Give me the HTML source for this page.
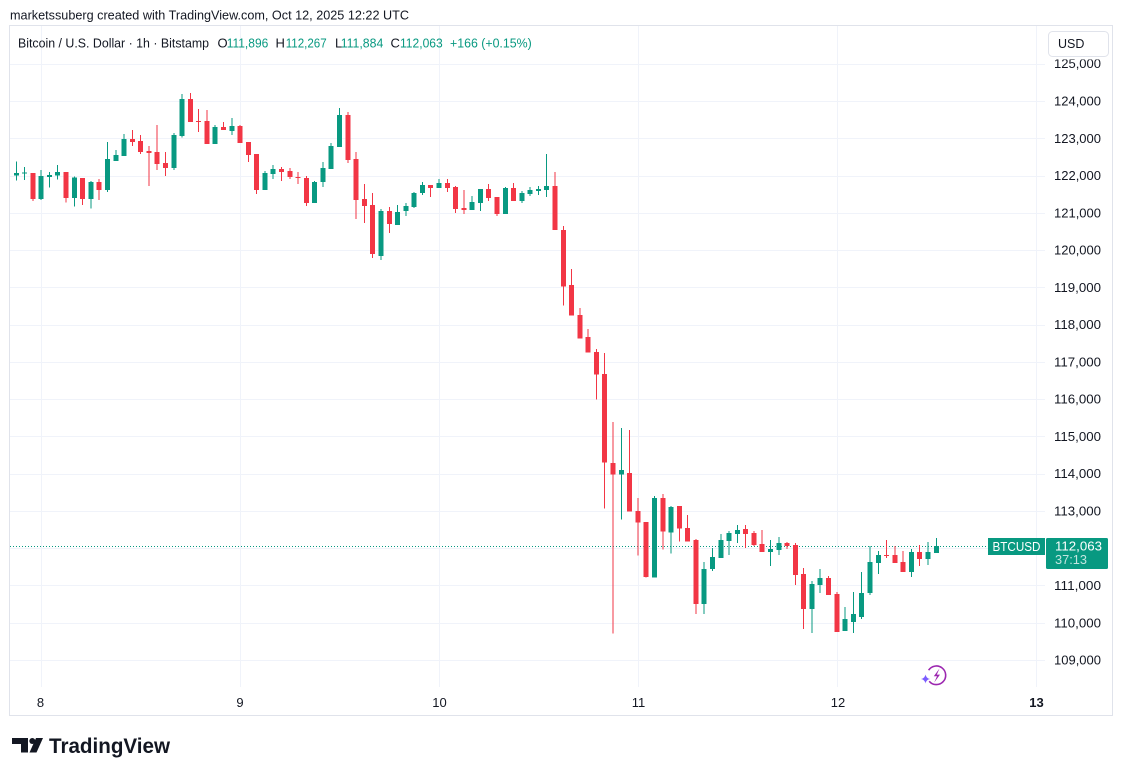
<!DOCTYPE html>
<html>
<head>
<meta charset="utf-8">
<style>
  html,body{margin:0;padding:0;background:#ffffff;}
  svg{display:block;}
  text{font-family:"Liberation Sans", Arial, sans-serif;}
</style>
</head>
<body>
<svg width="1123" height="776" viewBox="0 0 1123 776" xmlns="http://www.w3.org/2000/svg">
  <rect x="0" y="0" width="1123" height="776" fill="#ffffff"/>

  <!-- header -->
  <text x="10" y="19.5" font-size="13" fill="#131722" textLength="399" lengthAdjust="spacingAndGlyphs">marketssuberg created with TradingView.com, Oct 12, 2025 12:22 UTC</text>

  <!-- frame -->
  <rect x="9.5" y="25.5" width="1103" height="690" fill="#ffffff" stroke="#e0e3eb" stroke-width="1"/>

  <!-- grid -->
  <g stroke="#f0f3fa" stroke-width="1" shape-rendering="crispEdges">
    <line x1="10" x2="1045" y1="64.5" y2="64.5"/>
    <line x1="10" x2="1045" y1="101.5" y2="101.5"/>
    <line x1="10" x2="1045" y1="138.5" y2="138.5"/>
    <line x1="10" x2="1045" y1="176.5" y2="176.5"/>
    <line x1="10" x2="1045" y1="213.5" y2="213.5"/>
    <line x1="10" x2="1045" y1="250.5" y2="250.5"/>
    <line x1="10" x2="1045" y1="287.5" y2="287.5"/>
    <line x1="10" x2="1045" y1="325.5" y2="325.5"/>
    <line x1="10" x2="1045" y1="362.5" y2="362.5"/>
    <line x1="10" x2="1045" y1="399.5" y2="399.5"/>
    <line x1="10" x2="1045" y1="436.5" y2="436.5"/>
    <line x1="10" x2="1045" y1="474.5" y2="474.5"/>
    <line x1="10" x2="1045" y1="511.5" y2="511.5"/>
    <line x1="10" x2="1045" y1="548.5" y2="548.5"/>
    <line x1="10" x2="1045" y1="585.5" y2="585.5"/>
    <line x1="10" x2="1045" y1="623.5" y2="623.5"/>
    <line x1="10" x2="1045" y1="660.5" y2="660.5"/>
    <line x1="41.5" x2="41.5" y1="26" y2="687"/>
    <line x1="240.5" x2="240.5" y1="26" y2="687"/>
    <line x1="439.5" x2="439.5" y1="26" y2="687"/>
    <line x1="638.5" x2="638.5" y1="26" y2="687"/>
    <line x1="837.5" x2="837.5" y1="26" y2="687"/>
    <line x1="1036.5" x2="1036.5" y1="26" y2="687"/>
  </g>

  <!-- legend -->
  <g font-size="13">
    <text x="18" y="47.5" fill="#131722" textLength="191" lengthAdjust="spacingAndGlyphs">Bitcoin / U.S. Dollar · 1h · Bitstamp</text>
    <text x="217.5" y="47.5" fill="#131722">O</text>
    <text x="226.7" y="47.5" fill="#089981" textLength="41.6" lengthAdjust="spacingAndGlyphs">111,896</text>
    <text x="275.5" y="47.5" fill="#131722">H</text>
    <text x="285.7" y="47.5" fill="#089981" textLength="41" lengthAdjust="spacingAndGlyphs">112,267</text>
    <text x="335" y="47.5" fill="#131722">L</text>
    <text x="340.7" y="47.5" fill="#089981" textLength="42.6" lengthAdjust="spacingAndGlyphs">111,884</text>
    <text x="390.5" y="47.5" fill="#131722">C</text>
    <text x="400" y="47.5" fill="#089981" textLength="42.7" lengthAdjust="spacingAndGlyphs">112,063</text>
    <text x="450" y="47.5" fill="#089981" textLength="81.7" lengthAdjust="spacingAndGlyphs">+166 (+0.15%)</text>
  </g>

  <!-- current price dotted line -->
  <line x1="10" x2="988" y1="546.5" y2="546.5" stroke="#089981" stroke-width="1" stroke-dasharray="1 2"/>

  <!-- candles -->
  <g shape-rendering="crispEdges">
  <path fill="#089981" d="M13.8 173h5V175.7h-5z M15.8 161.7h1V180.7h-1z
M22.1 172.7h5V173.7h-5z M24.1 167h1V180h-1z
M38.7 176h5V199h-5z M40.7 170h1V200h-1z
M47 175h5V177h-5z M49 172h1V187.7h-1z
M55.2 172h5V175.7h-5z M57.2 165h1V179.7h-1z
M71.8 177.7h5V198h-5z M73.8 176.7h1V206.7h-1z
M88.4 182h5V199h-5z M90.4 181h1V208.7h-1z
M105 159h5V190h-5z M107 142h1V192h-1z
M113.3 155h5V161h-5z M115.3 150h1V161h-1z
M121.5 139h5V156h-5z M123.5 134h1V156h-1z
M171.3 135h5V168h-5z M173.3 133h1V170h-1z
M179.6 99h5V136h-5z M181.6 94h1V137.7h-1z
M212.7 127h5V144h-5z M214.7 125h1V144h-1z
M229.3 126h5V131h-5z M231.3 118h1V135h-1z
M262.4 173h5V190h-5z M264.4 171h1V190h-1z
M270.7 169h5V174h-5z M272.7 165h1V179h-1z
M312.2 182h5V203h-5z M314.2 181h1V203h-1z
M320.5 168h5V182h-5z M322.5 162h1V187h-1z
M328.7 146h5V169h-5z M330.7 143h1V169h-1z
M337 115h5V147h-5z M339 108h1V147h-1z
M378.5 211h5V256h-5z M380.5 209h1V260h-1z
M395 212h5V225h-5z M397 205h1V225h-1z
M403.3 206h5V211h-5z M405.3 203h1V216h-1z
M411.6 193h5V207h-5z M413.6 192h1V208h-1z
M419.9 185h5V193h-5z M421.9 182h1V195h-1z
M436.5 183h5V188h-5z M438.5 179h1V188h-1z
M469.6 202h5V210h-5z M471.6 196h1V210h-1z
M477.9 189h5V203h-5z M479.9 189h1V211h-1z
M502.8 188h5V214h-5z M504.8 187h1V214h-1z
M519.4 193h5V201h-5z M521.4 191h1V203h-1z
M527.7 190h5V194h-5z M529.7 187h1V196h-1z
M535.9 189h5V191h-5z M537.9 186h1V195h-1z
M544.2 186h5V190h-5z M546.2 154h1V197h-1z
M618.8 470h5V474.7h-5z M620.8 428h1V519.7h-1z
M652 498h5V577.7h-5z M654 496h1V577.7h-1z
M668.5 507h5V532.7h-5z M670.5 506h1V553.7h-1z
M701.7 569h5V604h-5z M703.7 562h1V614h-1z
M710 557h5V569h-5z M712 548h1V571h-1z
M718.3 540h5V558h-5z M720.3 534h1V558h-1z
M726.6 533h5V541h-5z M728.6 531h1V555h-1z
M734.9 530h5V534h-5z M736.9 525h1V543h-1z
M768 549h5V552h-5z M770 540h1V566h-1z
M776.3 543h5V550h-5z M778.3 537h1V555h-1z
M809.4 584h5V609h-5z M811.4 581h1V633h-1z
M817.7 578h5V585h-5z M819.7 569h1V593h-1z
M842.6 619h5V631h-5z M844.6 607h1V631h-1z
M850.9 614h5V622h-5z M852.9 592h1V633h-1z
M859.2 593h5V617h-5z M861.2 572h1V619h-1z
M867.5 562h5V593h-5z M869.5 546h1V595h-1z
M875.8 555h5V563h-5z M877.8 551h1V574h-1z
M908.9 552h5V572h-5z M910.9 549h1V577h-1z
M925.5 552h5V559h-5z M927.5 542h1V565h-1z
M933.8 546h5V553h-5z M935.8 538h1V553h-1z"/>
  <path fill="#f23645" d="M30.4 173h5V199h-5z M32.4 173h1V201h-1z
M63.5 172h5V198h-5z M65.5 172h1V202.7h-1z
M80.1 178h5V199h-5z M82.1 178h1V205h-1z
M96.7 182h5V190h-5z M98.7 179h1V200h-1z
M129.8 139h5V142h-5z M131.8 130h1V146h-1z
M138.1 141h5V152h-5z M140.1 135h1V154h-1z
M146.4 151h5V153h-5z M148.4 146h1V186h-1z
M154.7 152h5V164h-5z M156.7 125h1V170h-1z
M163 163h5V168h-5z M165 152h1V176h-1z
M187.8 99h5V122h-5z M189.8 93h1V122h-1z
M196.1 121h5V122h-5z M198.1 109h1V132h-1z
M204.4 121h5V144h-5z M206.4 110h1V144h-1z
M221 127h5V130h-5z M223 122h1V130h-1z
M237.6 126h5V143h-5z M239.6 125h1V143h-1z
M245.9 142h5V155h-5z M247.9 142h1V162h-1z
M254.2 154h5V190h-5z M256.2 154h1V194h-1z
M279 169h5V172h-5z M281 167h1V181h-1z
M287.3 171h5V177h-5z M289.3 168h1V179h-1z
M295.6 177h5V178h-5z M297.6 172h1V184h-1z
M303.9 178h5V203h-5z M305.9 176h1V206h-1z
M345.3 115h5V160h-5z M347.3 112h1V163h-1z
M353.6 159h5V200h-5z M355.6 152h1V219h-1z
M361.9 199h5V206h-5z M363.9 184h1V223h-1z
M370.2 205h5V254h-5z M372.2 193h1V258h-1z
M386.8 211h5V224h-5z M388.8 207h1V233h-1z
M428.2 185h5V188h-5z M430.2 185h1V197h-1z
M444.8 183h5V188h-5z M446.8 179h1V192h-1z
M453.1 187h5V209h-5z M455.1 186h1V213h-1z
M461.4 208h5V210h-5z M463.4 190h1V214h-1z
M486.2 189h5V198h-5z M488.2 184h1V201h-1z
M494.5 197h5V214h-5z M496.5 197h1V216h-1z
M511.1 188h5V201h-5z M513.1 183h1V201h-1z
M552.5 186h5V230h-5z M554.5 172h1V230h-1z
M560.8 230h5V286.7h-5z M562.8 226h1V305.7h-1z
M569.1 285h5V315.7h-5z M571.1 269h1V315.7h-1z
M577.4 315h5V338.7h-5z M579.4 308h1V338.7h-1z
M585.7 337h5V352.7h-5z M587.7 329h1V352.7h-1z
M594 352h5V374.7h-5z M596 349h1V399.7h-1z
M602.2 374h5V462.7h-5z M604.2 353h1V508.7h-1z
M610.5 463h5V474.7h-5z M612.5 422h1V633.7h-1z
M627.1 473h5V511.7h-5z M629.1 430h1V511.7h-1z
M635.4 511h5V522.7h-5z M637.4 498h1V555.7h-1z
M643.7 522h5V577h-5z M645.7 522h1V577.7h-1z
M660.3 498h5V531.7h-5z M662.3 494h1V549.7h-1z
M676.8 506h5V528.7h-5z M678.8 506h1V541.7h-1z
M685.1 528h5V541.7h-5z M687.1 515h1V541.7h-1z
M693.4 540h5V604h-5z M695.4 539h1V614h-1z
M743.1 529h5V534h-5z M745.1 525h1V548h-1z
M751.4 533h5V545h-5z M753.4 531h1V546h-1z
M759.7 544h5V552h-5z M761.7 530h1V552h-1z
M784.6 543h5V546h-5z M786.6 542h1V549h-1z
M792.9 545h5V575h-5z M794.9 543h1V585h-1z
M801.2 574h5V609h-5z M803.2 568h1V629h-1z
M826 578h5V595h-5z M828 576h1V595h-1z
M834.3 594h5V632h-5z M836.3 592h1V632h-1z
M884 555h5V556h-5z M886 540h1V558h-1z
M892.3 555h5V563h-5z M894.3 546h1V563h-1z
M900.6 562h5V572h-5z M902.6 551h1V572h-1z
M917.2 552h5V559h-5z M919.2 545h1V566h-1z"/>
  </g>

  <!-- price axis labels -->
  <g font-size="13" fill="#131722">
    <text x="1054" y="68.2" textLength="47" lengthAdjust="spacingAndGlyphs">125,000</text>
    <text x="1054" y="105.5" textLength="47" lengthAdjust="spacingAndGlyphs">124,000</text>
    <text x="1054" y="142.8" textLength="47" lengthAdjust="spacingAndGlyphs">123,000</text>
    <text x="1054" y="180" textLength="47" lengthAdjust="spacingAndGlyphs">122,000</text>
    <text x="1054" y="217.3" textLength="47" lengthAdjust="spacingAndGlyphs">121,000</text>
    <text x="1054" y="254.6" textLength="47" lengthAdjust="spacingAndGlyphs">120,000</text>
    <text x="1054" y="291.9" textLength="47" lengthAdjust="spacingAndGlyphs">119,000</text>
    <text x="1054" y="329.1" textLength="47" lengthAdjust="spacingAndGlyphs">118,000</text>
    <text x="1054" y="366.4" textLength="47" lengthAdjust="spacingAndGlyphs">117,000</text>
    <text x="1054" y="403.7" textLength="47" lengthAdjust="spacingAndGlyphs">116,000</text>
    <text x="1054" y="440.9" textLength="47" lengthAdjust="spacingAndGlyphs">115,000</text>
    <text x="1054" y="478.2" textLength="47" lengthAdjust="spacingAndGlyphs">114,000</text>
    <text x="1054" y="515.5" textLength="47" lengthAdjust="spacingAndGlyphs">113,000</text>
    <text x="1054" y="590" textLength="47" lengthAdjust="spacingAndGlyphs">111,000</text>
    <text x="1054" y="627.3" textLength="47" lengthAdjust="spacingAndGlyphs">110,000</text>
    <text x="1054" y="664.5" textLength="47" lengthAdjust="spacingAndGlyphs">109,000</text>
  </g>

  <!-- cover above 125,000 + USD button -->
  <rect x="1046" y="26" width="66" height="33.5" fill="#ffffff"/>
  <rect x="1048.5" y="31.5" width="60" height="25" rx="4" fill="#ffffff" stroke="#e0e3eb" stroke-width="1"/>
  <text x="1058" y="48" font-size="12.5" fill="#131722">USD</text>

  <!-- BTCUSD label & price box -->
  <rect x="988" y="538" width="57" height="17" fill="#089981"/>
  <text x="992.5" y="551" font-size="12.5" fill="#ffffff" textLength="48" lengthAdjust="spacingAndGlyphs">BTCUSD</text>
  <rect x="1046" y="538" width="62" height="31" rx="1.5" fill="#089981"/>
  <text x="1055" y="550.5" font-size="13" fill="#ffffff" textLength="47" lengthAdjust="spacingAndGlyphs">112,063</text>
  <text x="1055" y="564" font-size="13" fill="#ffffff" fill-opacity="0.75" textLength="32" lengthAdjust="spacingAndGlyphs">37:13</text>

  <!-- time axis labels -->
  <g font-size="13" fill="#131722" text-anchor="middle">
    <text x="40.5" y="707">8</text>
    <text x="240" y="707">9</text>
    <text x="439.5" y="707">10</text>
    <text x="638.5" y="707">11</text>
    <text x="838" y="707">12</text>
    <text x="1036.5" y="707" font-weight="bold">13</text>
  </g>

  <!-- lightning icon -->
  <g>
    <path d="M929.2 681.2 A9.3 9.3 0 1 0 928.6 670.2" fill="none" stroke="#9c27b0" stroke-width="1.6"/>
    <path d="M939.5 668.5 L933.8 676.2 L937 676.2 L934.2 682.5 L940 674.6 L936.8 674.6 Z" fill="#9c27b0"/>
    <path d="M925.5 674.5 Q926.2 678.3 930 679 Q926.2 679.7 925.5 683.5 Q924.8 679.7 921 679 Q924.8 678.3 925.5 674.5 Z" fill="#7b5cff"/>
  </g>

  <!-- TradingView logo -->
  <g fill="#131722">
    <rect x="12" y="738" width="16" height="6"/>
    <rect x="21" y="738" width="7" height="14.5"/>
    <circle cx="32.3" cy="741" r="3"/>
    <polygon points="36,738 43,738 36.5,752.5 29.5,752.5"/>
  </g>
  <text x="49" y="753" font-size="21" font-weight="bold" fill="#131722" textLength="121" lengthAdjust="spacingAndGlyphs">TradingView</text>
</svg>
</body>
</html>
